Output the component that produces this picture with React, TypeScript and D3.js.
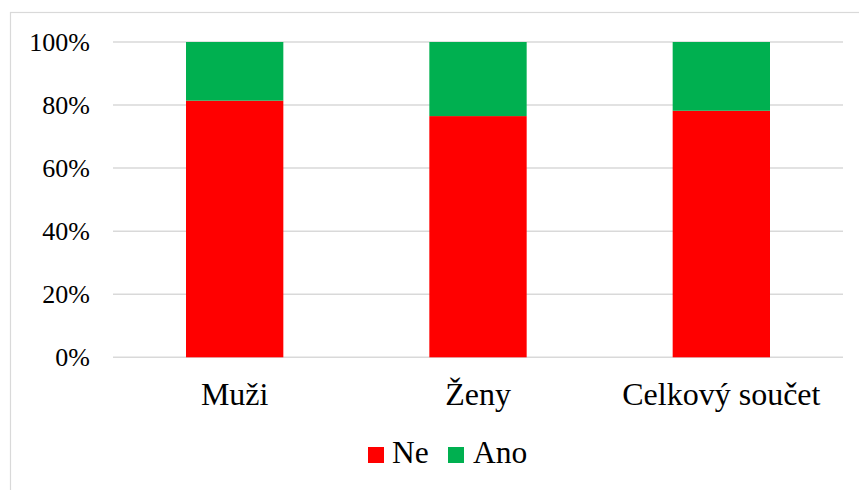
import React from "react";
import * as d3 from "d3";

const categories = ["Muži", "Ženy", "Celkový součet"];
const neValues = [0.814, 0.765, 0.782];
const anoValues = [0.186, 0.235, 0.218];
const seriesNames = ["Ne", "Ano"];
const seriesColors = ["#FF0000", "#00B050"];
const yTicks = [0, 0.2, 0.4, 0.6, 0.8, 1.0];

const W = 859;
const H = 490;
const plot = { left: 113, right: 843, top: 42, bottom: 357.3 };
const font = "Liberation Serif";

export default function App() {
  const x = d3
    .scaleBand<string>()
    .domain(categories)
    .range([plot.left, plot.right])
    .paddingInner(0.6)
    .paddingOuter(0.3);
  const y = d3.scaleLinear().domain([0, 1]).range([plot.bottom, plot.top]);

  const rows = categories.map((c, i) => ({ cat: c, Ne: neValues[i], Ano: anoValues[i] }));
  const stacked = d3.stack<any>().keys(seriesNames)(rows);

  const legendItems = [
    { name: seriesNames[0], color: seriesColors[0], sx: 368, tx: 392 },
    { name: seriesNames[1], color: seriesColors[1], sx: 448, tx: 473 },
  ];

  return (
    <svg
      width={W}
      height={H}
      fontFamily={font}
      style={{ position: "absolute", left: 0, top: 0, background: "#fff" }}
    >
      <style>{`text { font-family: "Liberation Serif", "Times New Roman", serif; }`}</style>
      <rect x={10.5} y={12.5} width={W} height={H} fill="#fff" stroke="#d9d9d9" strokeWidth={1.2} />
      {yTicks.map((t) => (
        <g key={t}>
          <line x1={plot.left} x2={plot.right} y1={y(t)} y2={y(t)} stroke="#d9d9d9" strokeWidth={1.5} />
          <text x={90} y={y(t) + 8.6} textAnchor="end" fontSize={26} fill="#000">
            {d3.format(".0%")(t)}
          </text>
        </g>
      ))}
      {stacked.map((s, si) => (
        <g key={s.key} fill={seriesColors[si]}>
          {s.map((d: any, i: number) => (
            <rect
              key={i}
              x={x(categories[i])}
              width={x.bandwidth()}
              y={y(d[1])}
              height={y(d[0]) - y(d[1])}
            />
          ))}
        </g>
      ))}
      {categories.map((c) => (
        <text
          key={c}
          x={(x(c) as number) + x.bandwidth() / 2}
          y={405}
          textAnchor="middle"
          fontSize={32}
          fill="#000"
        >
          {c}
        </text>
      ))}
      {legendItems.map((l) => (
        <g key={l.name}>
          <rect x={l.sx} y={447} width={16} height={16} fill={l.color} />
          <text x={l.tx} y={463.3} fontSize={31.5} fill="#000">
            {l.name}
          </text>
        </g>
      ))}
    </svg>
  );
}
